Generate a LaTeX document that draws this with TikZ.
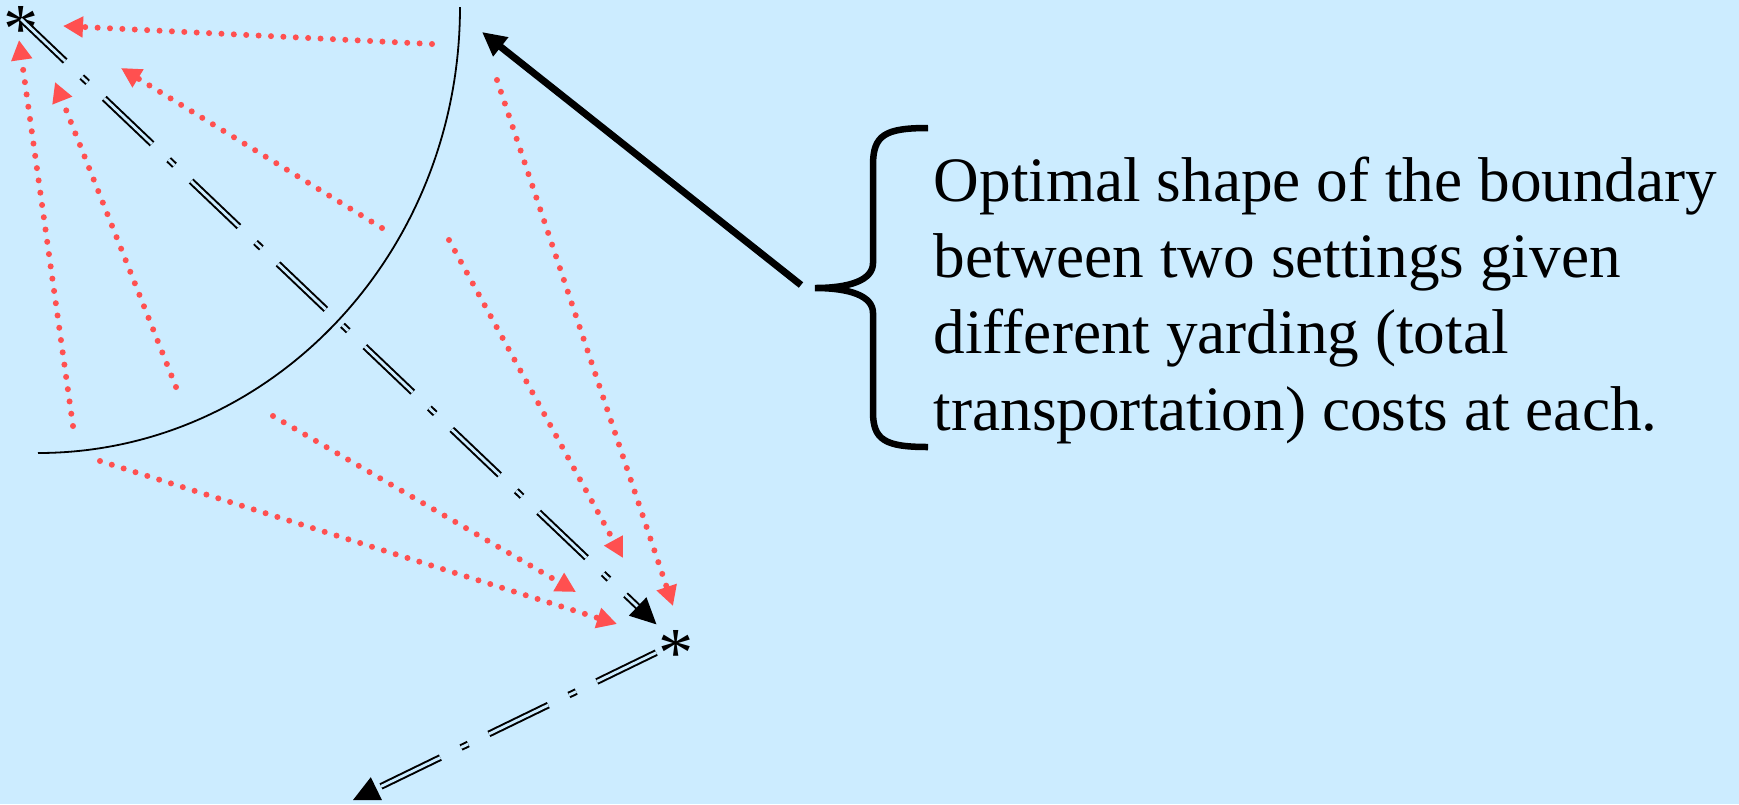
\documentclass[tikz,border=0pt]{standalone}
\usepackage{fontspec}
\IfFontExistsTF{LiberationSerif-Regular.ttf}
  {\setmainfont{LiberationSerif-Regular.ttf}}
  {\setmainfont{Liberation Serif}}
\usetikzlibrary{arrows.meta}
\definecolor{skyback}{RGB}{204,236,255}
\definecolor{costred}{RGB}{255,80,80}
\newcommand{\starmark}{\raisebox{-0.47em}[0.205em][0.205em]{*}}

\begin{document}
\begin{tikzpicture}[
  x=0.1mm, y=-0.1mm,
  site/.style={inner sep=0pt, font=\rmfamily\fontsize{20}{24}\selectfont},
  caption/.style={inner sep=0pt, align=left, font=\rmfamily\fontsize{18}{21.7}\selectfont},
  haul/.style={double=skyback, line width=0.2mm, double distance=0.28mm,
    dash pattern=on 6.6mm off 2.3mm on 0.8mm off 2.3mm,
    -{Triangle[length=2.6mm, width=2.5mm]}},
  cost/.style={costred, line width=0.6mm, line cap=round,
    dash pattern=on 0pt off 1.24mm, -{Triangle[length=2mm, width=2mm]}},
  pointer/.style={line width=0.7mm, -{Triangle[length=2.4mm, width=2.3mm]}},
]
  \fill[skyback] (0,0) rectangle (1739,804);
  \useasboundingbox (0,0) rectangle (1739,804);

  % the two settings
  \node[site] (setA) at (21,19) {\starmark};
  \node[site] (setB) at (676,643) {\starmark};
  \coordinate (exit) at (353,800);

  % boundary between the settings
  \draw[line width=0.18mm] (460,7) arc[start angle=0, end angle=90, x radius=422, y radius=446];

  % yarding directions
  \coordinate (a1) at (432,44);  \coordinate (b1) at (63,26);
  \coordinate (a2) at (73,426);  \coordinate (b2) at (19,40);
  \coordinate (a3) at (100,461); \coordinate (b3) at (617,624);
  \coordinate (a4) at (497,80);  \coordinate (b4) at (673,606);
  \coordinate (a5) at (382,228); \coordinate (b5) at (121,68);
  \coordinate (a6) at (176,387); \coordinate (b6) at (55,82);
  \coordinate (a7) at (273,416); \coordinate (b7) at (576,592);
  \coordinate (a8) at (449,240); \coordinate (b8) at (623,558);
  \draw[cost] (a1) -- (b1);
  \draw[cost] (a2) -- (b2);
  \draw[cost] (a3) -- (b3);
  \draw[cost] (a4) -- (b4);
  \draw[cost] (a5) -- (b5);
  \draw[cost] (a6) -- (b6);
  \draw[cost] (a7) -- (b7);
  \draw[cost] (a8) -- (b8);

  % transport routes
  \draw[haul, dash phase=0.5mm, shorten >=2.7mm] (setA.center) -- (setB.center);
  \draw[haul, shorten <=2.2mm] (setB.center) -- (exit);

  % brace and caption
  \coordinate (bracetip) at (815,288);
  \draw[line width=0.65mm] (928,128) .. controls (885,128) and (873,135) .. (873,165)
    -- (873,263) .. controls (873,280) and (850,288) .. (bracetip)
    .. controls (850,288) and (873,296) .. (873,313)
    -- (873,412) .. controls (873,440) and (885,447) .. (928,447);
  \node[caption, anchor=base west] (note) at (933,430)
    {Optimal shape of the boundary\\between two settings given\\different yarding (total\\transportation) costs at each.};
  \coordinate (pstart) at (801,285);
  \coordinate (arctop) at (482,32);
  \draw[pointer] (pstart) -- (arctop);
\end{tikzpicture}
\end{document}
